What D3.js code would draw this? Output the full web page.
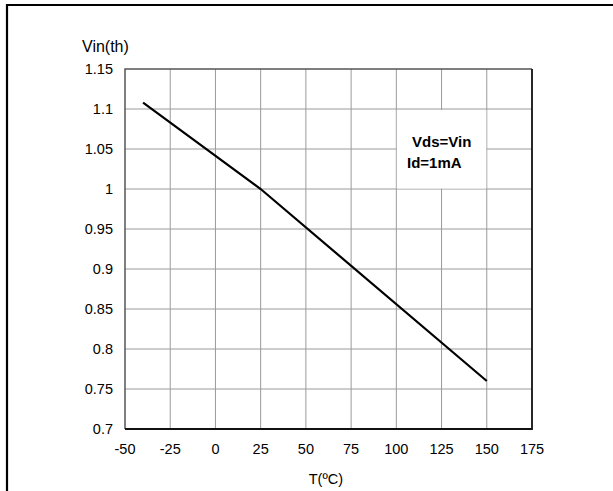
<!DOCTYPE html>
<html lang="en">
<head>
    <meta charset="UTF-8">
    <title>Vin(th) vs T</title>
    <script type="text/javascript" src="https://cdn.jsdelivr.net/npm/d3@7/dist/d3.min.js"></script>
    <style>
        body { margin: 0; background: #fff; }
        text { font-family: Arial, "Liberation Sans", sans-serif; fill: #000; }
    </style>
</head>
<body>
<script type="text/javascript">
    const width = 613, height = 491;

    // data
    const temps = [-40, 25, 150];
    const vth = [1.108, 1.0, 0.76];

    const xTicks = [-50, -25, 0, 25, 50, 75, 100, 125, 150, 175];
    const yTicks = [0.7, 0.75, 0.8, 0.85, 0.9, 0.95, 1, 1.05, 1.1, 1.15];
    const noteLines = ['Vds=Vin', 'Id=1mA'];

    const margin = {left: 125, top: 69, right: 613 - 532, bottom: 491 - 429};

    const svg = d3.select('body').append('svg')
        .attr('width', width)
        .attr('height', height);

    // outer frame (only top and left visible)
    svg.append('path')
        .attr('d', 'M7,' + height + 'V5H' + width)
        .attr('fill', 'none')
        .attr('stroke', '#000')
        .attr('stroke-width', 2.2);

    const x = d3.scaleLinear().domain([-50, 175]).range([margin.left, width - margin.right]);
    const y = d3.scaleLinear().domain([0.7, 1.15]).range([height - margin.bottom, margin.top]);

    // grid
    const grid = svg.append('g');
    grid.selectAll('line.v')
        .data(xTicks.slice(1, -1))
        .enter().append('line')
        .attr('x1', d => x(d)).attr('x2', d => x(d))
        .attr('y1', y(1.15)).attr('y2', y(0.7))
        .attr('stroke', '#9a9a9a').attr('stroke-width', 1);
    grid.selectAll('line.h')
        .data(yTicks.slice(1, -1))
        .enter().append('line')
        .attr('x1', x(-50)).attr('x2', x(175))
        .attr('y1', d => y(d)).attr('y2', d => y(d))
        .attr('stroke', '#9a9a9a').attr('stroke-width', 1);

    // plot border
    svg.append('path')
        .attr('d', 'M' + x(-50) + ',' + y(0.7) + 'V' + y(1.15) + 'H' + x(175))
        .attr('fill', 'none').attr('stroke', '#555').attr('stroke-width', 1.5);
    svg.append('path')
        .attr('d', 'M' + x(-50) + ',' + y(0.7) + 'H' + x(175) + 'V' + y(1.15))
        .attr('fill', 'none').attr('stroke', '#111').attr('stroke-width', 1.8);

    // note box
    svg.append('rect')
        .attr('x', x(100) + 0.5)
        .attr('y', y(1.1) + 1)
        .attr('width', x(150) - x(100) - 1)
        .attr('height', y(1.0) - y(1.1) - 1.5)
        .attr('fill', '#fff');
    svg.selectAll('text.note')
        .data(noteLines)
        .enter().append('text')
        .attr('x', (d, i) => i === 0 ? 412 : 407)
        .attr('y', (d, i) => 147 + i * 21)
        .style('font-size', '15px')
        .style('font-weight', 'bold')
        .text(d => d);

    // curve
    const line = d3.line()
        .x((d, i) => x(temps[i]))
        .y(d => y(d));
    svg.append('path')
        .datum(vth)
        .attr('d', line)
        .attr('fill', 'none')
        .attr('stroke', '#000')
        .attr('stroke-width', 2.2);

    // tick labels
    svg.selectAll('text.yt')
        .data(yTicks)
        .enter().append('text')
        .attr('x', 113)
        .attr('y', d => y(d) + 5)
        .attr('text-anchor', 'end')
        .style('font-size', '14.5px')
        .text(d => d);
    svg.selectAll('text.xt')
        .data(xTicks)
        .enter().append('text')
        .attr('x', d => x(d))
        .attr('y', 454)
        .attr('text-anchor', 'middle')
        .style('font-size', '14.5px')
        .text(d => d);

    svg.append('text')
        .attr('x', 82).attr('y', 52)
        .style('font-size', '16px')
        .text('Vin(th)');
    svg.append('text')
        .attr('x', x(50) + 20).attr('y', 484)
        .attr('text-anchor', 'middle')
        .style('font-size', '14.5px')
        .text('T(ºC)');
</script>
</body>
</html>
